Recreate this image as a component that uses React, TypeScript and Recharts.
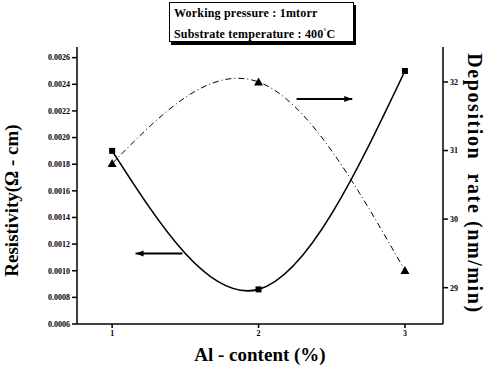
import {
  LineChart,
  Line,
  XAxis,
  YAxis,
  ReferenceLine,
} from "recharts";

const alContent = [1, 2, 3];
const resistivity = [0.0019, 0.00086, 0.0025];
const depositionRate = [30.81, 32.0, 29.25];

const resistivityTicks = [
  0.0006, 0.0008, 0.001, 0.0012, 0.0014, 0.0016, 0.0018, 0.002, 0.0022, 0.0024,
  0.0026,
];
const rateTicks = [29, 30, 31, 32];
const contentTicks = [1, 2, 3];

const data = alContent.map((x, i) => ({
  x,
  resistivity: resistivity[i],
  rate: depositionRate[i],
}));

const serif = "'Liberation Serif', 'DejaVu Serif', serif";
const tickStyle = { fontSize: 8, fontWeight: 700, fill: "#000", fontFamily: serif };

const Square = (props: any) => {
  const { cx, cy, index } = props;
  return <rect key={"sq" + index} x={cx - 3} y={cy - 3} width={6} height={6} fill="#000" />;
};

const Triangle = (props: any) => {
  const { cx, cy, index } = props;
  return (
    <polygon
      key={"tr" + index}
      points={`${cx},${cy - 4.5} ${cx - 4.5},${cy + 3.5} ${cx + 4.5},${cy + 3.5}`}
      fill="#000"
    />
  );
};

// line with an arrowhead at (x2, y2)
const Arrow = (props: any) => {
  const { x1, y1, x2, y2 } = props;
  const d = x2 > x1 ? -1 : 1;
  return (
    <g>
      <line x1={x1} y1={y1} x2={x2} y2={y2} stroke="#000" strokeWidth={2} />
      <polygon
        points={`${x2},${y2} ${x2 + d * 8},${y2 - 3} ${x2 + d * 8},${y2 + 3}`}
        fill="#000"
      />
    </g>
  );
};

const App = () => {
  return (
    <div style={{ position: "absolute", left: 0, top: 0, width: 488, height: 366, background: "#fff" }}>
      <LineChart
        width={488}
        height={366}
        data={data}
        margin={{ top: 47, right: 0, left: 0, bottom: 0 }}
      >
        <XAxis
          dataKey="x"
          type="number"
          domain={[0.76, 3.26]}
          ticks={contentTicks}
          height={42}
          tickSize={4}
          tick={tickStyle}
          stroke="#000"
          strokeWidth={1.5}
          label={{
            value: "Al - content (%)",
            position: "insideBottom",
            offset: 5,
            style: { fontSize: 19, fontWeight: 700, fill: "#000", fontFamily: serif },
          }}
        />
        <XAxis
          xAxisId="top"
          dataKey="x"
          type="number"
          domain={[0.76, 3.26]}
          orientation="top"
          height={0}
          tick={false}
          tickLine={false}
          stroke="#000"
        />
        <YAxis
          yAxisId="left"
          domain={[0.0006, 0.00268]}
          ticks={resistivityTicks}
          tickFormatter={(v: number) => v.toFixed(4)}
          width={77}
          tickSize={5}
          tick={tickStyle}
          stroke="#000"
          strokeWidth={1.5}
          label={{
            value: "Resistivity(Ω - cm)",
            angle: -90,
            position: "insideLeft",
            offset: 11,
            dy: 15,
            style: { fontSize: 19, fontWeight: 700, fill: "#000", fontFamily: serif, textAnchor: "middle" },
          }}
        />
        <YAxis
          yAxisId="right"
          orientation="right"
          domain={[28.47, 32.51]}
          ticks={rateTicks}
          width={45}
          tickSize={5}
          tick={tickStyle}
          stroke="#000"
          strokeWidth={1.5}
          label={{
            value: "Deposition\u00a0\u00a0rate (nm/min)",
            angle: 90,
            position: "insideRight",
            offset: 13,
            dy: -2,
            style: {
              fontSize: 20,
              fontWeight: 700,
              fill: "#000",
              fontFamily: serif,
              textAnchor: "middle",
              letterSpacing: 1.6,
            },
          }}
        />
        <Line
          yAxisId="left"
          dataKey="resistivity"
          type="natural"
          stroke="#000"
          strokeWidth={1.6}
          dot={Square}
          activeDot={false}
          isAnimationActive={false}
        />
        <Line
          yAxisId="right"
          dataKey="rate"
          type="natural"
          stroke="#000"
          strokeWidth={1}
          strokeDasharray="6 3 1 3"
          dot={Triangle}
          activeDot={false}
          isAnimationActive={false}
        />
        <ReferenceLine
          yAxisId="left"
          segment={[
            { x: 1.48, y: 0.00113 },
            { x: 1.16, y: 0.00113 },
          ]}
          shape={Arrow}
        />
        <ReferenceLine
          yAxisId="right"
          segment={[
            { x: 2.26, y: 31.75 },
            { x: 2.64, y: 31.75 },
          ]}
          shape={Arrow}
        />
      </LineChart>
      <div
        style={{
          position: "absolute",
          left: 169,
          top: 2,
          width: 179,
          height: 37,
          border: "1px solid #000",
          boxShadow: "2px 3px 0 #000",
          background: "#fff",
          fontFamily: serif,
          fontWeight: 700,
          fontSize: 12,
          letterSpacing: 0.2,
          lineHeight: "18px",
          padding: "1px 0 0 4px",
          whiteSpace: "nowrap",
          color: "#000",
        }}
      >
        <div>Working pressure : 1mtorr</div>
        <div>
          Substrate temperature : 400<sup style={{ fontSize: 7 }}>°</sup>C
        </div>
      </div>
    </div>
  );
};

export default App;
